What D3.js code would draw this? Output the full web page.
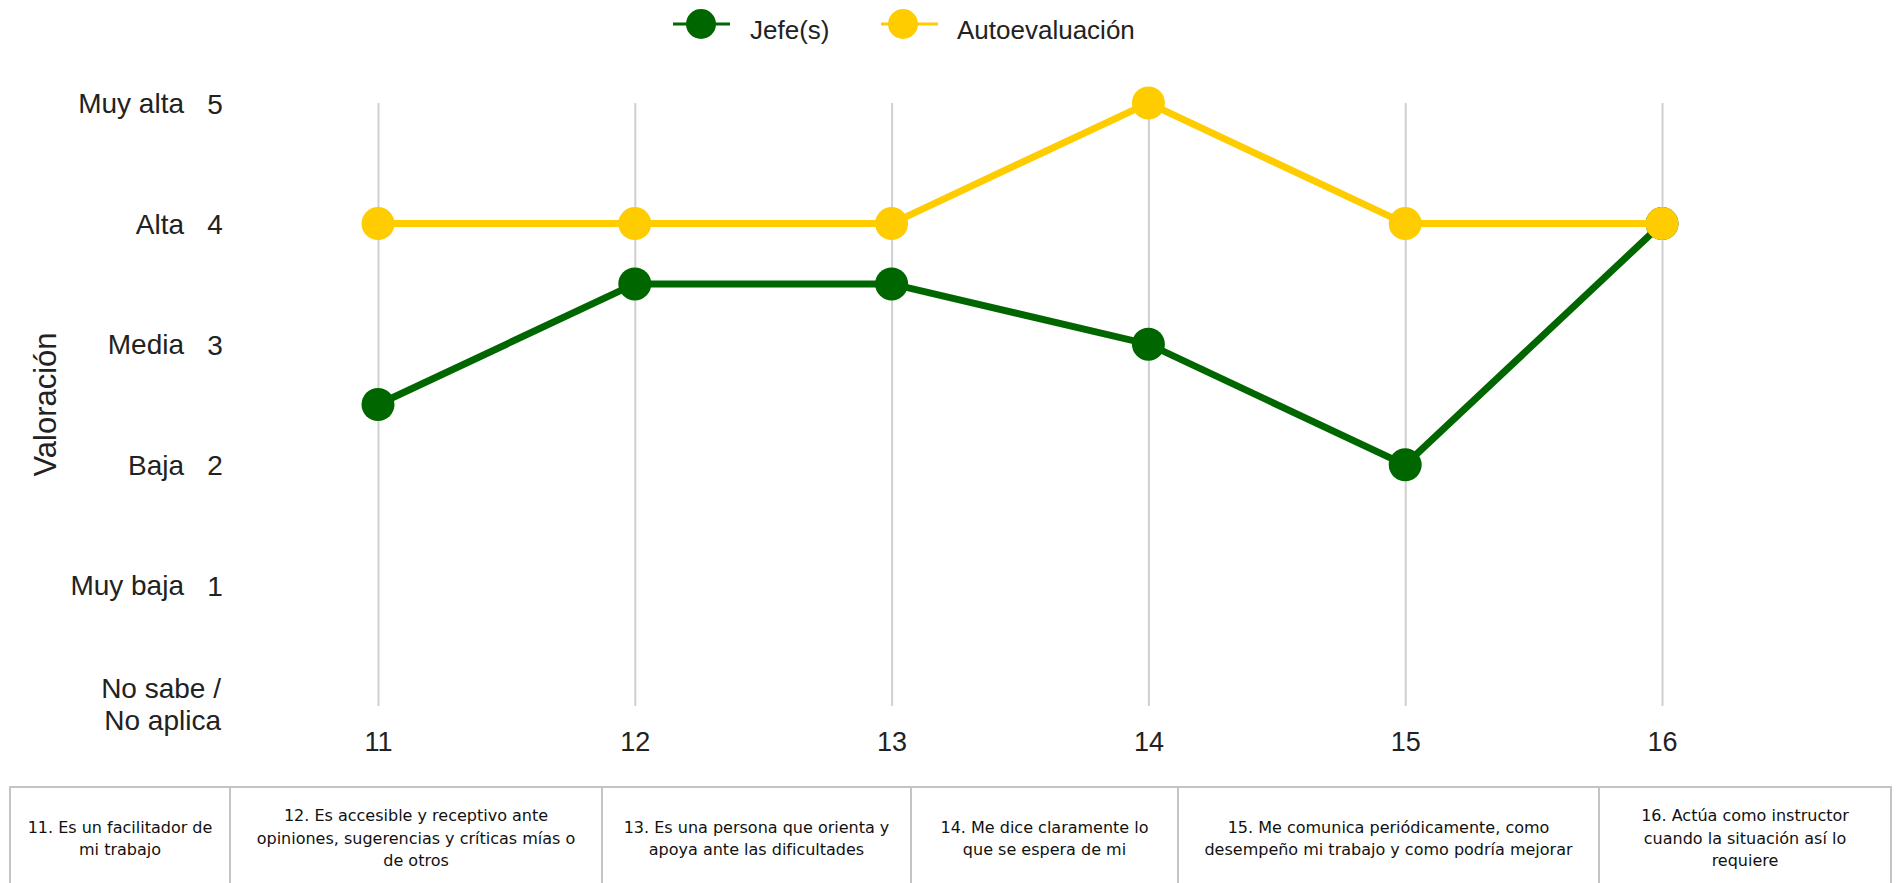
<!DOCTYPE html>
<html lang="es">
<head>
<meta charset="utf-8">
<title>Valoración por ítem</title>
<script src="https://cdn.jsdelivr.net/npm/d3@7"></script>
<style>
  html, body { margin: 0; padding: 0; background: #fff; }
  svg { display: block; }
  .lbl { font-family: "Liberation Sans", Arial, sans-serif; fill: #222; }
  .cell { font-family: "DejaVu Sans", sans-serif; font-size: 16px; fill: #111; }
</style>
</head>
<body>
<svg id="chart" width="1899" height="883"></svg>
<script>
// Item numbers on the x axis
const categories = ["11", "12", "13", "14", "15", "16"];

// Ratings per item
const jefesValues = [2.5, 3.5, 3.5, 3, 2, 4];
const autoValues = [4, 4, 4, 5, 4, 4];

// Series names and colours
const seriesNames = ["Jefe(s)", "Autoevaluación"];
const seriesColors = ["#006600", "#ffcc00"];

// Rating scale (value -> level name)
const levelValues = [0, 1, 2, 3, 4, 5];
const levelNames = [["No sabe /", "No aplica"], ["Muy baja"], ["Baja"], ["Media"], ["Alta"], ["Muy alta"]];

// Item statements shown in the table under the axis (pre-wrapped lines)
const itemTexts = [
  ["11. Es un facilitador de", "mi trabajo"],
  ["12. Es accesible y receptivo ante", "opiniones, sugerencias y críticas mías o", "de otros"],
  ["13. Es una persona que orienta y", "apoya ante las dificultades"],
  ["14. Me dice claramente lo", "que se espera de mi"],
  ["15. Me comunica periódicamente, como", "desempeño mi trabajo y como podría mejorar"],
  ["16. Actúa como instructor", "cuando la situación así lo", "requiere"]
];

const svg = d3.select("#chart");

// Layout
const plotLeft = 378, plotRight = 1662, plotTop = 103, plotBottom = 706;
const tableTop = 787, tableBottom = 900;
const colEdges = [10, 230, 602, 911, 1178, 1599, 1891];

const x = d3.scalePoint().domain(categories).range([plotLeft, plotRight]);
const y = d3.scaleLinear().domain([0, 5]).range([plotBottom, plotTop]);

// Vertical grid lines and item numbers
const xAxis = svg.append("g")
  .attr("transform", `translate(0,${plotBottom})`)
  .call(d3.axisBottom(x).tickSize(-(plotBottom - plotTop)).tickPadding(0));
xAxis.select(".domain").remove();
xAxis.selectAll(".tick line").attr("stroke", "#d0d0d0").attr("stroke-width", 2);
xAxis.selectAll(".tick text")
  .attr("class", "lbl")
  .attr("y", 45).attr("dy", 0)
  .style("font-size", "27px");

// Rating numbers
const yAxis = svg.append("g")
  .attr("transform", "translate(215,0)")
  .call(d3.axisLeft(y).tickValues(levelValues.filter(v => v > 0)).tickSize(0).tickPadding(0).tickFormat(d3.format("d")));
yAxis.select(".domain").remove();
yAxis.selectAll(".tick text")
  .attr("class", "lbl")
  .attr("text-anchor", "middle")
  .attr("x", 0)
  .attr("dy", "0.36em")
  .style("font-size", "28px");

// Level names
const names = svg.append("g").attr("class", "lbl").style("font-size", "28px");
levelValues.forEach((v, i) => {
  const lines = levelNames[i];
  const multi = lines.length > 1;
  const t = names.append("text")
    .attr("text-anchor", "end")
    .attr("x", multi ? 221 : 184)
    .attr("y", y(v))
    .attr("dy", multi ? "-0.3em" : "0.36em");
  lines.forEach((ln, j) => {
    t.append("tspan").attr("x", multi ? 221 : 184).attr("dy", j === 0 ? null : "1.14em").text(ln);
  });
});

// Axis title
svg.append("text")
  .attr("class", "lbl")
  .attr("transform", `translate(56,${(plotTop + plotBottom) / 2}) rotate(-90)`)
  .attr("text-anchor", "middle")
  .style("font-size", "31px")
  .text("Valoración");

// Series lines and markers
const seriesData = [jefesValues, autoValues];
const line = d3.line().x((d, i) => x(categories[i])).y(d => y(d));

seriesData.forEach((vals, s) => {
  const g = svg.append("g");
  g.append("path")
    .datum(vals)
    .attr("d", line)
    .attr("fill", "none")
    .attr("stroke", seriesColors[s])
    .attr("stroke-width", 7);
  g.selectAll("circle")
    .data(vals)
    .join("circle")
    .attr("cx", (d, i) => x(categories[i]))
    .attr("cy", d => y(d))
    .attr("r", 16.5)
    .attr("fill", seriesColors[s]);
});

// Legend
const legendItems = [
  { lineX: [673, 730], cx: 701, textX: 750 },
  { lineX: [881, 938], cx: 903, textX: 957 }
];
const legend = svg.append("g");
legendItems.forEach((it, s) => {
  legend.append("line")
    .attr("x1", it.lineX[0]).attr("x2", it.lineX[1])
    .attr("y1", 24).attr("y2", 24)
    .attr("stroke", seriesColors[s]).attr("stroke-width", 3);
  legend.append("circle")
    .attr("cx", it.cx).attr("cy", 24).attr("r", 15)
    .attr("fill", seriesColors[s]);
  legend.append("text")
    .attr("class", "lbl")
    .attr("x", it.textX).attr("y", 39)
    .style("font-size", "26px")
    .text(seriesNames[s]);
});

// Statement table
const table = svg.append("g");
table.append("rect")
  .attr("x", colEdges[0]).attr("y", tableTop)
  .attr("width", colEdges[colEdges.length - 1] - colEdges[0])
  .attr("height", tableBottom - tableTop)
  .attr("fill", "none").attr("stroke", "#c4c4c4").attr("stroke-width", 2);
colEdges.slice(1, -1).forEach(cx => {
  table.append("line")
    .attr("x1", cx).attr("x2", cx)
    .attr("y1", tableTop).attr("y2", tableBottom)
    .attr("stroke", "#c4c4c4").attr("stroke-width", 2);
});
const lineH = 22.5, midY = 838;
itemTexts.forEach((lines, i) => {
  const cx = (colEdges[i] + colEdges[i + 1]) / 2;
  const t = table.append("text").attr("class", "cell").attr("text-anchor", "middle");
  lines.forEach((ln, j) => {
    t.append("tspan")
      .attr("x", cx)
      .attr("y", midY + (j - (lines.length - 1) / 2) * lineH)
      .attr("dy", "0.36em")
      .text(ln);
  });
});
</script>
</body>
</html>
